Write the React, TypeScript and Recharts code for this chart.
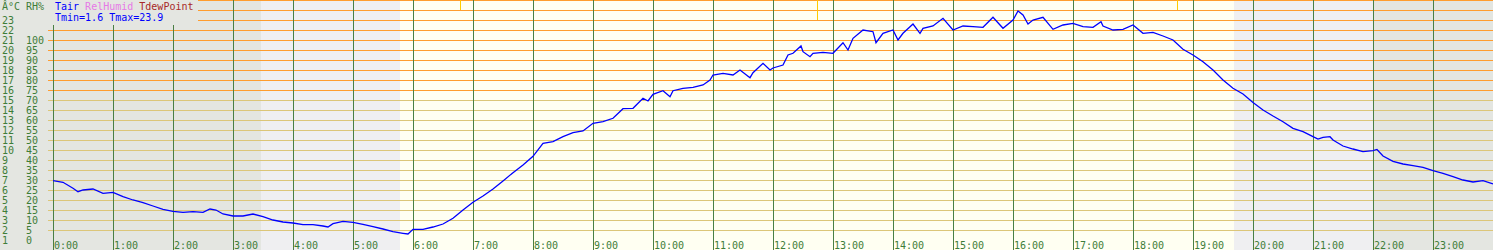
import React from 'react';
import { LineChart, Line, XAxis, YAxis, ReferenceLine, ReferenceArea } from 'recharts';

// minutes after midnight
const tairMinutes = [
  0, 10, 20, 25, 30, 40, 50, 60, 70, 80, 90, 100, 110, 120, 130, 140, 150, 157, 163, 170,
  180, 190, 200, 210, 220, 230, 240, 250, 260, 270, 275, 280, 290, 300, 310, 320, 330, 340, 350, 355,
  360, 370, 380, 390, 400, 410, 420, 430, 440, 450, 460, 470, 480, 490, 500, 510, 520, 530, 540, 550,
  560, 570, 580, 590, 595, 600, 610, 617, 620, 630, 640, 650, 657, 660, 670, 680, 687, 697, 700, 710,
  717, 720, 730, 735, 740, 748, 750, 757, 760, 770, 780, 790, 795, 800, 810, 820, 823, 830, 840, 845,
  850, 860, 867, 870, 880, 890, 900, 910, 920, 930, 940, 950, 960, 965, 970, 975, 980, 990, 1000, 1010,
  1020, 1030, 1040, 1048, 1050, 1060, 1070, 1080, 1090, 1100, 1110, 1120, 1130, 1140, 1150, 1160, 1170, 1180, 1190, 1200,
  1210, 1220, 1230, 1240, 1250, 1260, 1265, 1270, 1277, 1280, 1290, 1300, 1310, 1320, 1324, 1330, 1340, 1350, 1360, 1370,
  1380, 1390, 1400, 1410, 1420, 1430, 1440,
];

// air temperature, °C
const tairValues = [
  6.93, 6.77, 6.17, 5.83, 6.0, 6.1, 5.67, 5.77, 5.33, 5.0, 4.73, 4.4, 4.07, 3.87, 3.77, 3.83, 3.77, 4.1, 4.0, 3.6,
  3.4, 3.4, 3.6, 3.33, 3.0, 2.8, 2.7, 2.53, 2.53, 2.4, 2.3, 2.63, 2.87, 2.77, 2.57, 2.33, 2.1, 1.83, 1.67, 1.6,
  2.07, 2.07, 2.3, 2.6, 3.17, 4.0, 4.77, 5.4, 6.1, 6.9, 7.73, 8.5, 9.37, 10.67, 10.83, 11.33, 11.73, 11.9, 12.67, 12.83,
  13.17, 14.13, 14.17, 15.17, 14.9, 15.57, 15.93, 15.33, 15.93, 16.17, 16.27, 16.5, 17.0, 17.5, 17.67, 17.5, 18.0, 17.23, 17.73, 18.67,
  18.0, 18.2, 18.5, 19.5, 19.67, 20.4, 19.83, 19.33, 19.67, 19.77, 19.67, 20.73, 20.0, 21.17, 22.0, 21.83, 20.73, 21.67, 22.0, 21.0,
  21.67, 22.6, 21.67, 22.17, 22.4, 23.17, 22.0, 22.4, 22.33, 22.27, 23.27, 22.17, 23.0, 23.9, 23.5, 22.6, 23.0, 23.27, 22.07, 22.5,
  22.67, 22.33, 22.27, 22.83, 22.4, 22.0, 22.07, 22.5, 21.67, 21.77, 21.4, 21.0, 20.07, 19.5, 18.83, 18.0, 17.0, 16.17, 15.6, 14.75,
  14.0, 13.4, 12.83, 12.17, 11.83, 11.33, 11.1, 11.27, 11.33, 11.0, 10.4, 10.1, 9.83, 9.93, 10.05, 9.4, 8.87, 8.6, 8.43, 8.27,
  7.93, 7.67, 7.33, 7.0, 6.8, 6.93, 6.6,
];

const hourLabels = [
  '0:00', '1:00', '2:00', '3:00', '4:00', '5:00', '6:00', '7:00', '8:00', '9:00', '10:00', '11:00',
  '12:00', '13:00', '14:00', '15:00', '16:00', '17:00', '18:00', '19:00', '20:00', '21:00', '22:00', '23:00',
];
const hourMinutes = hourLabels.map((_, i) => i * 60);

const tempTicks = [1, 2, 3, 4, 5, 6, 7, 8, 9, 10, 11, 12, 13, 14, 15, 16, 17, 18, 19, 20, 21, 22, 23];
const rhTicks = [0, 5, 10, 15, 20, 25, 30, 35, 40, 45, 50, 55, 60, 65, 70, 75, 80, 85, 90, 95, 100];
const gridTemps = [2, 3, 4, 5, 6, 7, 8, 9, 10, 11, 12, 13, 14, 15, 16, 17, 18, 19, 20, 21, 22, 23, 24, 25];

// light bands: [from, to] minutes
const twilightBands = [[208, 347], [1181, 1320]];
const dayBand = [347, 1181];
// sunrise, solar noon, sunset markers
const sunMarks = [407, 764, 1124];

const data = tairMinutes.map((m, i) => ({ m, tair: tairValues[i] }));

const GREEN = '#3e7d38';
const NIGHT = '#e4e6e1';
const FONT = 'DejaVu Sans Mono, monospace';

function YTick(props: any) {
  const { y, payload, index } = props;
  return (
    <g>
      <text x={2} y={y} dy="0.355em" fontSize={10} fontFamily={FONT} fill={GREEN}>
        {payload.value}
      </text>
      {index < rhTicks.length && (
        <text x={26} y={y} dy="0.355em" fontSize={10} fontFamily={FONT} fill={GREEN}>
          {rhTicks[index]}
        </text>
      )}
    </g>
  );
}

function HourLabel(props: any) {
  const { viewBox, text } = props;
  if (!viewBox) return null;
  return (
    <text x={viewBox.x + 1} y={viewBox.y + viewBox.height - 1} fontSize={10} fontFamily={FONT} fill={GREEN}>
      {text}
    </text>
  );
}

export default function App() {
  return (
    <div style={{ position: 'relative', width: 1493, height: 250, background: NIGHT }}>
      <style>{'body{margin:0}'}</style>
      <LineChart width={1493} height={250} data={data} margin={{ top: 0, right: 0, bottom: 0, left: 0 }}>
        <XAxis dataKey="m" type="number" domain={[-5, 1440]} ticks={hourMinutes} hide />
        <YAxis
          type="number"
          domain={[0, 25]}
          ticks={tempTicks}
          interval={0}
          width={48}
          axisLine={false}
          tickLine={false}
          tick={<YTick />}
        />
        {twilightBands.map(([a, b]) => (
          <ReferenceArea key={a} x1={a} x2={b} fill="#efeff1" fillOpacity={1} stroke="none" shapeRendering="crispEdges" />
        ))}
        <ReferenceArea x1={dayBand[0]} x2={dayBand[1]} fill="#fffff2" fillOpacity={1} stroke="none" shapeRendering="crispEdges" />
        {gridTemps.map((t) => (
          <ReferenceLine
            key={'h' + t}
            y={t}
            stroke={t >= 16 ? '#ff9d2e' : '#dcc679'}
            strokeWidth={1}
            shapeRendering="crispEdges"
          />
        ))}
        {hourMinutes.map((m, i) => (
          <ReferenceLine
            key={'v' + m}
            x={m}
            stroke="#4a7f44"
            strokeWidth={1}
            shapeRendering="crispEdges"
            label={<HourLabel text={hourLabels[i]} />}
          />
        ))}
        {sunMarks.map((m, i) => (
          <ReferenceLine
            key={'s' + m}
            segment={[{ x: m, y: 25 }, { x: m, y: i === 1 ? 23 : 24 }]}
            stroke="#ffcc00"
            strokeWidth={1}
            shapeRendering="crispEdges"
          />
        ))}
        <Line
          type="linear"
          dataKey="tair"
          stroke="#0000ff"
          strokeWidth={1.3}
          dot={false}
          isAnimationActive={false}
        />
      </LineChart>
      <svg width={198} height={25} style={{ position: 'absolute', left: 0, top: 0 }}>
        <rect x={48} y={0} width={150} height={25} fill={NIGHT} />
        <text x={2} y={10} fontSize={10} fontFamily={FONT} fill={GREEN}>
          Â°C
        </text>
        <text x={26} y={10} fontSize={10} fontFamily={FONT} fill={GREEN}>
          RH%
        </text>
        <text x={55} y={10} fontSize={10} fontFamily={FONT} xmlSpace="preserve">
          <tspan fill="#0000ff">Tair </tspan>
          <tspan fill="#e67ae6">RelHumid </tspan>
          <tspan fill="#a82828">TdewPoint</tspan>
        </text>
        <text x={55} y={21} fontSize={10} fontFamily={FONT} fill="#0000ff">
          Tmin=1.6 Tmax=23.9
        </text>
      </svg>
    </div>
  );
}
